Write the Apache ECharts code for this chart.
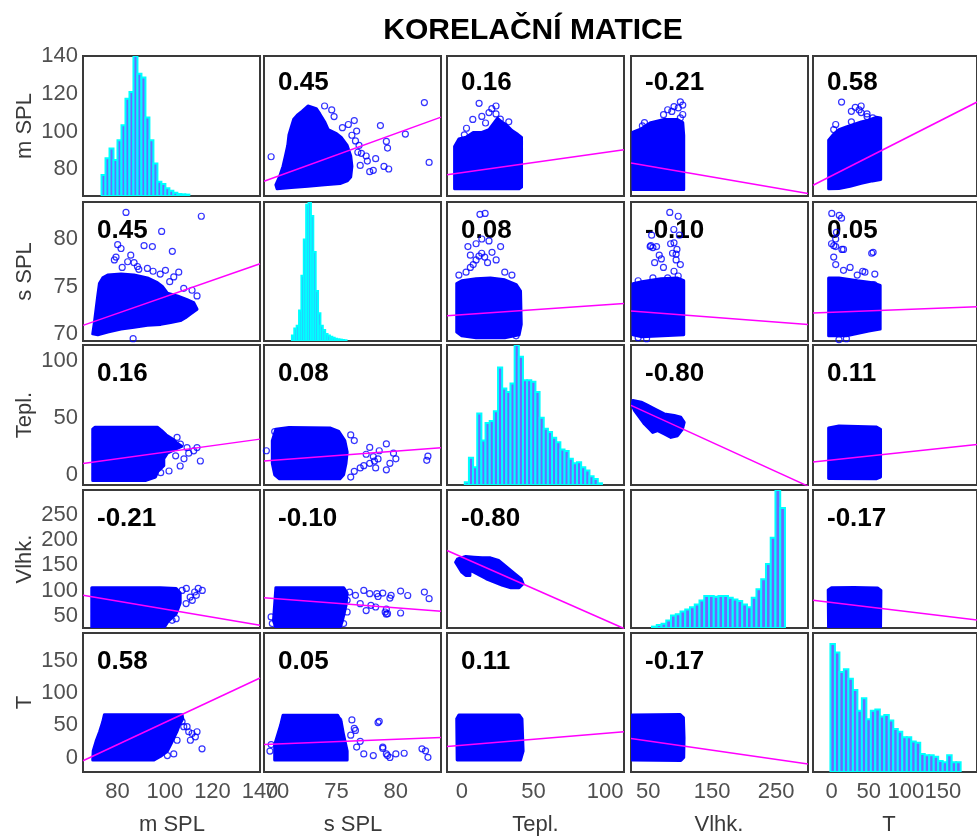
<!DOCTYPE html>
<html><head><meta charset="utf-8">
<script src="https://cdn.jsdelivr.net/npm/echarts@6/dist/echarts.min.js"></script>
<style>html,body{margin:0;padding:0;background:#fff}#c{width:977px;height:836px}</style>
</head><body><div id="c"></div>
<script>
// ---------------- data ----------------
const chartTitle = 'KORELAČNÍ MATICE';
const varNames = ['m SPL', 's SPL', 'Tepl.', 'Vlhk.', 'T'];
const xRanges = [[65.5, 140], [68.9, 83.8], [-10.3, 113.2], [23, 300], [-25, 196]];
const yRanges = [[65.8, 140], [69.25, 83.9], [-9, 114], [25.5, 299.5], [-22.5, 193]];
const xTicks = [[80, 100, 120, 140], [70, 75, 80], [0, 50, 100], [50, 150, 250], [0, 50, 100, 150]];
const yTicks = [[80, 100, 120, 140], [70, 75, 80], [0, 50, 100], [50, 100, 150, 200, 250], [0, 50, 100, 150]];

const corr = [
  [1, 0.45, 0.16, -0.21, 0.58],
  [0.45, 1, 0.08, -0.10, 0.05],
  [0.16, 0.08, 1, -0.80, 0.11],
  [-0.21, -0.10, -0.80, 1, -0.17],
  [0.58, 0.05, 0.11, -0.17, 1]
];

// regression line: y value at x-axis min and at x-axis max, per cell [row][col]
const fitEnds = [
  [null, [73.6, 107.6], [77.1, 90.3], [83.3, 67.1], [71.5, 115.6]],
  [[70.9, 77.4], null, [71.9, 73.2], [72.4, 71.0], [72.2, 72.85]],
  [[9.8, 31.3], [12, 23.7], null, [60.9, -10], [11.3, 26.5]],
  [[90.3, 30.9], [85.7, 58.6], [179.3, 24.4], null, [80.4, 41.3]],
  [[-5, 123.2], [20.3, 30.9], [17.2, 39.8], [29.3, -10.2], null]
];

// histograms (diagonal): bin start, bin width, relative counts
const histStart = [73.3, 71.25, 2.1, 55.9, -1.5];
const histWidth = [1.68, 0.2, 2.9, 7.43, 6.05];
const histMSPL = [0.15,0.269,0.34,0.257,0.399,0.506,0.695,0.743,1.0,0.874,0.846,0.561,0.399,0.233,0.102,0.086,0.055,0.038,0.024,0.014,0.012,0.01];
const histSSPL = [0.04,0.09,0.11,0.22,0.47,0.73,0.98,1.0,0.9,0.64,0.36,0.2,0.11,0.08,0.05,0.04,0.03,0.024,0.017,0.012,0.01,0.007,0.005];
const histTepl = [0.019,0.194,0.127,0.51,0.318,0.443,0.457,0.526,0.84,0.689,0.665,0.725,1.0,0.916,0.749,0.749,0.737,0.665,0.481,0.402,0.378,0.337,0.306,0.254,0.242,0.187,0.155,0.163,0.127,0.103,0.062,0.043,0.012];
const histVlhk = [0.01,0.022,0.03,0.054,0.09,0.1,0.12,0.134,0.151,0.17,0.2,0.232,0.232,0.227,0.232,0.232,0.22,0.207,0.195,0.17,0.151,0.22,0.28,0.354,0.463,0.654,1.0,0.87];
const histT = [0.92,0.86,0.72,0.74,0.67,0.59,0.44,0.53,0.38,0.44,0.45,0.4,0.41,0.37,0.31,0.29,0.25,0.25,0.22,0.21,0.13,0.12,0.12,0.11,0.08,0.07,0.12,0.07,0.07];
const histCounts = [histMSPL, histSSPL, histTepl, histVlhk, histT];

// dense point clouds (outline, data units [x, y]) for lower cells
const cloud_mSPL_sSPL = [[69.6,70.0],[70.3,71.2],[71.0,72.6],[71.7,74.0],[72.4,75.3],[73.8,75.9],[75.9,76.2],[81.5,76.3],[87.0,76.2],[92.6,75.9],[96.8,75.4],[98.9,75.0],[101.0,74.3],[105.2,74.0],[109.3,73.6],[112.1,73.3],[113.5,72.6],[110.7,72.1],[108.6,71.7],[106.5,71.4],[102.4,71.2],[98.2,71.0],[92.6,70.9],[87.0,70.7],[81.5,70.5],[75.9,70.2],[71.7,69.9]];
const cloud_mSPL_Tepl = [[69.6,-5],[69.6,40],[70.5,41.7],[96.8,41.7],[98.5,39],[100.5,35],[103.5,31],[105,28],[107,25],[104,22],[101,19],[99.5,14],[99.5,8],[97,3],[96,-2],[92,-5]];
const cloud_sSPL_Tepl = [[70.2,-3.5],[75.3,-3.5],[75.6,0],[75.8,10],[75.9,20],[75.7,30],[75.2,38],[74.5,41],[71,41.5],[69.9,40],[69.6,30],[69.6,10],[69.8,0]];
const cloud_mSPL_Vlhk = [[69.2,26],[69.2,105.5],[98,105.5],[104.7,104],[106.4,95],[106.4,75],[104.7,54],[101.2,38],[99.6,26]];
const cloud_sSPL_Vlhk = [[69.9,26],[69.7,40],[69.9,105.5],[75.6,105.5],[75.9,95],[75.8,70],[75.5,40],[75.3,26]];
const cloud_Tepl_Vlhk = [[-4.3,156.2],[-2.9,162.8],[2.8,167.4],[8.5,166.1],[14.2,164.8],[20,164.8],[25.7,159.5],[31.4,146.3],[37.1,133.1],[41.4,123.2],[42.8,113.4],[40,105.4],[34.3,105.4],[28.5,110.1],[22.8,116.6],[17.1,123.2],[12.8,129.8],[8.5,136.4],[5.7,139.7],[5.7,129.8],[2.8,129.8],[0,136.4],[-2.9,149.6]];
const cloud_Vlhk_Tepl_upper = [[26,65.3],[39,63.8],[49.3,60.9],[59.6,57.9],[75.1,53.5],[90.7,52],[101,50.5],[106.2,46.1],[103.6,40.2],[95.8,34.3],[85.5,32.8],[75.1,35.8],[64.8,38.7],[57.1,37.2],[51.9,40.2],[44.1,44.6],[36.4,50.5],[28.6,56.4],[24.5,60.9]];
const cloud_mSPL_T = [[69.6,-3.9],[69.8,10],[71,25],[72.5,40],[73.8,55],[74.5,66.2],[107.2,66.2],[107.5,60],[106,50],[105,40],[103.7,30],[102.4,20],[101,10],[98.2,2],[95.4,-3.9]];
const cloud_sSPL_T = [[69.8,-3.9],[69.8,20],[70.3,50],[70.5,65.5],[75.1,65.5],[75.4,55],[75.6,35],[75.9,10],[75.9,-3.9]];
const cloud_Tepl_T = [[-3.2,-3.9],[-3.5,60],[-2,66],[40,66],[42,60],[42.8,10],[41,-3.9]];
const cloud_Vlhk_T = [[25,-4],[25,66],[100,66.5],[105,62],[106,30],[105.5,0],[101,-4.5]];

// isolated points [x, y] for lower cells
const pts_mSPL_sSPL = [[83.6,82.8],[115.3,82.4],[98.6,80.8],[91.2,79.3],[94.7,79.2],[80.1,79.4],[81.5,79.0],[103.1,78.7],[85.6,78.3],[79.4,78.1],[78.7,77.8],[84.3,77.6],[87.0,77.5],[88.4,77.1],[92.6,76.9],[100.2,76.7],[103.7,76.0],[105.8,76.5],[107.9,74.8],[111.4,74.6],[113.5,74.0],[107.2,73.2],[86.6,69.5],[89,76.8],[95,76.6],[82,77.0],[98,76.3],[102,75.5]];
const pts_mSPL_Tepl = [[114.9,12.1],[106.4,7.7],[104.5,16.6],[109.3,23.9],[112.1,21],[113.5,23.9],[101.7,3.3],[98.2,1.8],[105.1,32.8],[106.5,26.9],[110,19],[108,14]];
const pts_sSPL_Tepl = [[76.5,3],[77,6],[77.3,8],[77.8,10],[78.2,12],[78.5,13.9],[78.1,16],[77.5,18],[78.6,21.1],[77.8,24],[79.2,27.1],[79.2,4.3],[82.6,12.7],[82.7,16.3],[80,14],[79.5,10],[79.8,19],[69.1,21.1],[69.8,37.9],[76.5,30],[76.2,35],[76.2,-2],[78.3,6]];
const pts_mSPL_Vlhk = [[115.7,100.2],[113.2,90.3],[110.6,86.9],[108.9,73.9],[111.5,80.4],[107.2,100.2],[104.7,44.1],[103.0,40.8],[112.5,97],[109,104],[114,104]];
const pts_sSPL_Vlhk = [[76.1,96.9],[76.6,90.3],[77.3,100.2],[77.8,93.6],[78.4,93.6],[78.9,94.9],[79.6,90.3],[80.4,98.8],[82.4,96.9],[82.8,83.7],[75.9,80.4],[77.0,73.8],[77.9,70.5],[78.3,67.2],[79.1,57.3],[79.3,54.0],[80.4,55.3],[75.9,57.3],[75.6,34.2],[69.5,47.4],[69.6,34.2],[79.5,85],[79.2,53],[79.2,63],[78.5,88],[77.5,60],[81.0,90]];
const pts_mSPL_T = [[109.3,47.8],[110.0,39.9],[111.4,37.2],[113.5,39.9],[112.8,32],[110.7,26.7],[115.6,13.5],[103.7,5.6],[101.0,2.9],[107.2,55.6],[107.9,47.8],[105.1,26.7]];
const pts_sSPL_T = [[69.4,10],[69.5,20],[75.2,57],[76.3,58.3],[78.5,54.1],[76.2,34.6],[76.7,16.1],[77.3,5.6],[78.1,2.9],[78.9,16.1],[79.2,5.6],[80.0,5.6],[80.7,6.6],[82.2,13.5],[82.7,0.3],[76.5,45],[77,25],[79.5,0],[82.5,10.4],[79.3,3],[78.9,14],[78.6,56],[76.6,42]];

// lower-triangle lookup: key row+col
const lowerClouds = {
  '10': cloud_mSPL_sSPL, '20': cloud_mSPL_Tepl, '21': cloud_sSPL_Tepl,
  '30': cloud_mSPL_Vlhk, '31': cloud_sSPL_Vlhk, '32': cloud_Tepl_Vlhk,
  '40': cloud_mSPL_T, '41': cloud_sSPL_T, '42': cloud_Tepl_T, '43': cloud_Vlhk_T
};
const lowerPts = {
  '10': pts_mSPL_sSPL, '20': pts_mSPL_Tepl, '21': pts_sSPL_Tepl,
  '30': pts_mSPL_Vlhk, '31': pts_sSPL_Vlhk, '40': pts_mSPL_T, '41': pts_sSPL_T
};
const upperCloudOverride = { '23': cloud_Vlhk_Tepl_upper, '32x': null };

// ---------------- layout ----------------
const cellLeft = [83, 264, 447, 631, 813];
const cellTop = [56, 202, 345, 490, 633];
const cellW = 177;
const cellH = [140, 139, 140, 138, 139];
const xNameCenter = [172, 353, 535.5, 719, 889];
const FONT = '"Liberation Sans", Arial, Helvetica, sans-serif';

const grids = [], xAxes = [], yAxes = [], series = [], graphics = [];
const swap = arr => arr.map(p => [p[1], p[0]]);

for (let i = 0; i < 5; i++) {
  for (let j = 0; j < 5; j++) {
    const idx = i * 5 + j;
    grids.push({ left: cellLeft[j], top: cellTop[i], width: cellW, height: cellH[i],
      show: true, borderColor: '#3a3a3a', borderWidth: 2, backgroundColor: 'rgba(0,0,0,0)' });
    xAxes.push({ type: 'value', gridIndex: idx, min: xRanges[j][0], max: xRanges[j][1],
      axisLine: { show: false }, axisTick: { show: false }, splitLine: { show: false },
      axisLabel: i === 4 ? { show: true, customValues: xTicks[j], color: '#505050', fontSize: 22, fontFamily: FONT, margin: 9 } : { show: false } });
    yAxes.push({ type: 'value', gridIndex: idx, min: yRanges[i][0], max: yRanges[i][1],
      axisLine: { show: false }, axisTick: { show: false }, splitLine: { show: false },
      axisLabel: j === 0 ? { show: true, customValues: yTicks[i], color: '#505050', fontSize: 22, fontFamily: FONT, margin: 5 } : { show: false } });
  }
}
// extra hidden y axes for histograms
for (let k = 0; k < 5; k++) {
  yAxes.push({ type: 'value', gridIndex: k * 6, min: 0, max: 1, show: false,
    axisLine: { show: false }, axisTick: { show: false }, splitLine: { show: false }, axisLabel: { show: false } });
}

for (let i = 0; i < 5; i++) {
  for (let j = 0; j < 5; j++) {
    const idx = i * 5 + j;
    if (i === j) {
      const st = histStart[i], w = histWidth[i];
      const bins = histCounts[i].map((c, k) => [st + k * w, st + (k + 1) * w, c]);
      series.push({
        type: 'custom', coordinateSystem: 'cartesian2d', xAxisIndex: idx, yAxisIndex: 25 + i,
        clip: true, silent: true, animation: false, data: bins, encode: { x: [0, 1], y: 2 },
        renderItem: (params, api) => {
          const p0 = api.coord([api.value(0), api.value(2)]);
          const p1 = api.coord([api.value(1), 0]);
          return { type: 'rect', shape: { x: p0[0], y: p0[1], width: p1[0] - p0[0], height: p1[1] - p0[1] },
            style: { fill: '#6a6aff', stroke: '#00ffff', lineWidth: 2 } };
        }
      });
      continue;
    }
    let cloud, pts;
    if (i > j) {
      cloud = lowerClouds['' + i + j];
      pts = lowerPts['' + i + j] || [];
    } else {
      const key = '' + i + j;
      if (upperCloudOverride[key]) { cloud = upperCloudOverride[key]; pts = []; }
      else { cloud = swap(lowerClouds['' + j + i]); pts = swap(lowerPts['' + j + i] || []); }
    }
    const poly = cloud;
    series.push({
      type: 'custom', coordinateSystem: 'cartesian2d', xAxisIndex: idx, yAxisIndex: idx,
      clip: true, silent: true, animation: false, z: 2, data: [poly[0]],
      renderItem: (params, api) => ({ type: 'polygon',
        shape: { points: poly.map(p => api.coord(p)) },
        style: { fill: '#0000ff', stroke: '#0000ff', lineWidth: 3, lineJoin: 'round' } })
    });
    if (pts.length) {
      series.push({ type: 'scatter', xAxisIndex: idx, yAxisIndex: idx, data: pts, z: 3, silent: true, animation: false,
        symbol: 'circle', symbolSize: 6, itemStyle: { color: 'rgba(0,0,0,0)', borderColor: '#0000ff', borderWidth: 1.2 } });
    }
    const fe = fitEnds[i][j];
    series.push({ type: 'line', xAxisIndex: idx, yAxisIndex: idx, z: 4, silent: true, animation: false, clip: true,
      data: [[xRanges[j][0], fe[0]], [xRanges[j][1], fe[1]]], symbol: 'none',
      lineStyle: { color: '#ff00ff', width: 1.5 } });
    graphics.push({ type: 'text', x: cellLeft[j] + 14, y: cellTop[i] + (i === 0 ? 27 : 29), z: 1,
      style: { text: corr[i][j].toFixed(2), fill: '#000', fontSize: 26, fontWeight: 'bold', fontFamily: FONT,
        align: 'left', verticalAlign: 'middle' } });
  }
}

graphics.push({ type: 'text', x: 533, y: 31, style: { text: chartTitle, fill: '#000', fontSize: 30, fontWeight: 'bold',
  fontFamily: FONT, align: 'center', verticalAlign: 'middle' } });
for (let k = 0; k < 5; k++) {
  graphics.push({ type: 'text', x: xNameCenter[k], y: 825, style: { text: varNames[k], fill: '#3a3a3a', fontSize: 22,
    fontFamily: FONT, align: 'center', verticalAlign: 'middle' } });
  graphics.push({ type: 'text', x: 25, y: cellTop[k] + cellH[k] / 2, rotation: Math.PI / 2,
    style: { text: varNames[k], fill: '#3a3a3a', fontSize: 22, fontFamily: FONT, align: 'center', verticalAlign: 'middle' } });
}

const chart = echarts.init(document.getElementById('c'), null, { renderer: 'canvas' });
chart.setOption({ animation: false, backgroundColor: '#fff', grid: grids, xAxis: xAxes, yAxis: yAxes,
  series: series, graphic: { elements: graphics } });
</script></body></html>
